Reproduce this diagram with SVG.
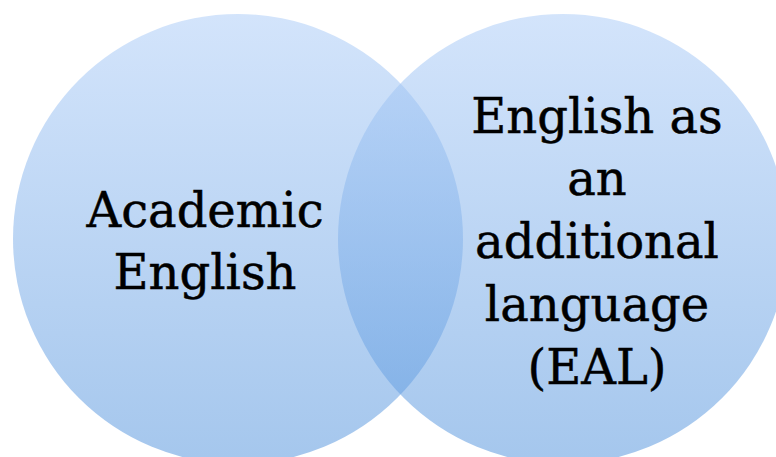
<svg xmlns="http://www.w3.org/2000/svg" width="776" height="457" viewBox="0 0 776 457">
  <defs>
    <linearGradient id="g" gradientUnits="userSpaceOnUse" x1="0" y1="14" x2="0" y2="464">
      <stop offset="0" stop-color="#afcef8"/>
      <stop offset="1" stop-color="#5a98de"/>
    </linearGradient>
    <style>
      .c { fill: url(#g); fill-opacity: 0.55; }
      .t { font-family: "DejaVu Serif", "Liberation Serif", serif; font-size: 48px; fill: #000; stroke: #000; stroke-width: 0.5; text-anchor: middle; }
    </style>
  </defs>
  <rect width="776" height="457" fill="#ffffff"/>
  <g id="node-academic">
    <circle class="c" cx="238" cy="239" r="225"/>
    <text class="t"><tspan x="205" y="227">Academic</tspan><tspan x="205" y="289">English</tspan></text>
  </g>
  <g id="node-eal">
    <circle class="c" cx="563" cy="239" r="225"/>
    <text class="t"><tspan x="597" y="133">English as</tspan><tspan x="597" y="195">an</tspan><tspan x="597" y="258">additional</tspan><tspan x="597" y="321">language</tspan><tspan x="597" y="384">(EAL)</tspan></text>
  </g>
  <g id="connectors"></g>
</svg>
